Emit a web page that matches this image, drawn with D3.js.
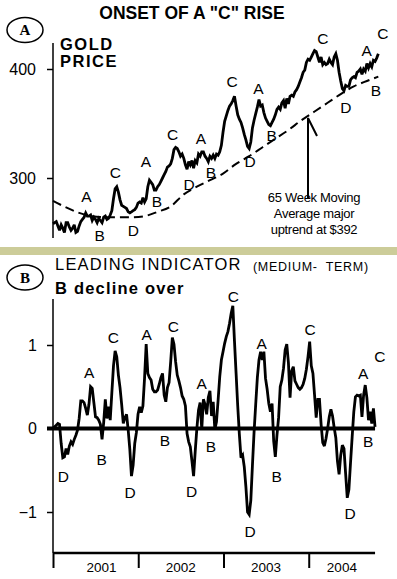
<!DOCTYPE html>
<html><head><meta charset="utf-8">
<script src="https://cdn.jsdelivr.net/npm/d3@7"></script>
<style>body{margin:0;background:#fff}svg{display:block}text{font-family:"Liberation Sans",Arial,sans-serif;fill:#000}</style>
</head><body>
<script>
// ---- data (weekly from 2001-01-01) ----
const startDate = "2001-01-01";
const goldPrice = [258,259,260,256,252,257,254,250,259,259,255,252,254,257,250,251,256,260,262,264,
268,265,265,266,261,264,262,259,263,261,259,264,265,262,263,266,270,281,290,292,
287,280,275,274,273,272,269,268,269,270,271,273,277,278,277,282,278,281,292,298,
296,294,289,289,292,294,297,300,303,306,310,311,313,318,326,328,327,324,320,322,
318,312,308,315,312,316,309,316,314,322,320,324,324,320,318,315,320,318,321,318,
322,321,324,330,342,352,357,362,366,368,371,375,366,358,354,351,346,340,335,329,
327,333,346,353,359,365,372,366,367,360,355,352,349,348,351,354,358,363,365,363,
369,371,364,373,368,375,376,375,379,381,384,388,392,397,399,406,409,408,411,414,
417,416,411,406,411,404,406,404,405,409,406,404,411,414,408,397,389,382,380,385,
384,384,390,392,393,392,397,398,400,395,400,398,405,401,405,402,408,407,410,414];
const maWeeks = [0,8,16,24,32,40,48,56,64,72,80,88,96,104,112,120,128,136,144,152,160,168,176,184,192,199];
const movingAvg = [279,273,268,265,264,264,264,265,269,274,285,292,298,304,313,320,328,336,344,353,361,369,377,384,389,393];
const indicator = [0.00,0.02,0.04,0.06,0.05,-0.18,-0.35,-0.34,-0.24,-0.31,-0.21,-0.16,-0.19,-0.13,-0.08,-0.02,0.12,0.33,0.33,0.31,
0.24,0.16,0.29,0.50,0.48,0.31,0.14,0.13,0.10,0.05,-0.13,0.07,0.35,0.12,0.26,0.10,0.43,0.75,0.93,0.86,
0.64,0.49,0.29,0.06,0.13,0.17,-0.02,-0.25,-0.57,-0.44,-0.18,-0.05,0.17,0.26,0.19,0.27,0.60,1.01,0.66,0.61,
0.58,0.47,0.44,0.44,0.46,0.53,0.61,0.66,0.40,0.32,0.49,0.55,0.80,1.09,1.01,0.80,0.64,0.57,0.49,0.39,
0.35,0.27,-0.06,-0.16,-0.22,-0.39,-0.57,-0.27,0.00,0.22,0.31,-0.01,0.35,0.29,0.17,0.37,0.45,0.15,0.32,-0.01,
0.08,0.34,0.62,0.82,0.92,1.02,1.10,1.16,1.26,1.38,1.47,1.05,0.66,0.27,-0.07,-0.35,-0.32,-0.46,-0.70,-1.00,
-1.03,-0.86,-0.44,-0.04,0.29,0.61,0.82,0.92,0.82,0.92,0.60,0.47,0.30,0.20,0.30,-0.15,-0.34,-0.08,0.13,0.50,
0.58,0.72,0.94,1.01,0.79,0.37,0.69,0.74,0.57,0.53,0.49,0.47,0.49,0.53,0.60,0.71,0.86,1.04,0.75,0.66,
0.40,0.13,0.35,0.35,0.05,-0.17,-0.21,-0.12,0.00,0.14,0.23,0.15,0.01,-0.11,-0.39,-0.55,-0.32,-0.20,-0.24,-0.54,
-0.83,-0.73,-0.41,-0.10,0.20,0.38,0.40,0.39,0.40,0.14,0.40,0.52,0.37,0.10,0.20,0.06,0.24,0.02];
const goldTicks = [300,400];
const indTicks = [-1,0,1];
const years = ["2001","2002","2003","2004"];
// wave labels: [letter, week, value]
const goldLabels = [["A",20.5,282.6],["B",28.6,246.8],["C",38.2,305.5],["D",49.1,251.8],["A",56.9,314.7],
["B",63.6,278],["C",73.2,339.9],["D",83.2,293.6],["A",90.5,335.8],["B",96.6,304.9],["C",109.5,388.3],
["D",120.5,315],["A",125.6,382.3],["B",133.8,339.4],["C",165.1,428.2],["D",179.2,364.9],["A",191.9,417.4],
["B",197.6,380.1],["C",201.7,432.8]];
const indLabels = [["D",6.3,-0.577],["A",22.2,0.665],["B",29.8,-0.377],["C",36.9,1.084],["D",47.1,-0.772],
["A",57.3,1.12],["B",68.5,-0.138],["C",73.6,1.219],["D",84.8,-0.757],["A",90.9,0.541],["B",96.6,-0.218],
["C",110.3,1.578],["D",120.5,-1.236],["A",127.6,1.02],["B",136.8,-0.569],["C",157.2,1.18],["D",181.7,-1.016],
["A",189.8,0.653],["B",192.8,-0.15],["C",200,0.868]];

// ---- setup ----
const W=397,H=579;
const svg=d3.select("body").append("svg").attr("width",W).attr("height",H);
const t0=d3.timeParse("%Y-%m-%d")(startDate);
const wk=i=>new Date(t0.getTime()+i*7*864e5);
const x=d3.scaleTime().domain([new Date(2001,0,1),new Date(2005,0,1)]).range([53,394.2]);
const gy=d3.scaleLinear().domain([300,400]).range([178,69]);
const iy=d3.scaleLinear().domain([-1,1]).range([512,345]);
const lastDate=wk(indicator.length-1);

// ---- title ----
svg.append("text").attr("x",192).attr("y",19).attr("text-anchor","middle")
  .style("font-weight","bold").style("font-size","17.5px").text('ONSET OF A "C" RISE');

function badge(cx,cy,letter){
  svg.append("ellipse").attr("cx",cx).attr("cy",cy).attr("rx",18).attr("ry",12.5)
    .attr("fill","none").attr("stroke","#000").attr("stroke-width",1.5);
  svg.append("text").attr("x",cx).attr("y",cy+5).attr("text-anchor","middle")
    .style("font-family","'Liberation Serif',serif").style("font-weight","bold").style("font-size","15px").text(letter);
}
badge(25,30,"A");
svg.append("text").attr("x",60).attr("y",49.5).style("font-weight","bold").style("font-size","16.5px").style("letter-spacing","1.5px").text("GOLD");
svg.append("text").attr("x",60).attr("y",66.5).style("font-weight","bold").style("font-size","16.5px").style("letter-spacing","1.5px").text("PRICE");

// gold axis
svg.append("line").attr("x1",53).attr("x2",53).attr("y1",43).attr("y2",238).attr("stroke","#000").attr("stroke-width",1.5);
const ga=svg.append("g").attr("transform","translate(53,0)")
  .call(d3.axisLeft(gy).tickValues(goldTicks).tickSize(6).tickPadding(11));
ga.select(".domain").remove();
ga.selectAll("line").attr("stroke-width",1.5);
ga.selectAll("text").style("font-size","16px").style("font-family","'Liberation Sans',Arial,sans-serif");

// moving average
svg.append("path").datum(maWeeks.map((w,i)=>[wk(w),movingAvg[i]]))
  .attr("d",d3.line().x(d=>x(d[0])).y(d=>gy(d[1])).curve(d3.curveMonotoneX))
  .attr("fill","none").attr("stroke","#000").attr("stroke-width",2).attr("stroke-dasharray","9,5");
// gold line
svg.append("path").datum(goldPrice.map((v,i)=>[wk(i),v]))
  .attr("d",d3.line().x(d=>x(d[0])).y(d=>gy(d[1])))
  .attr("fill","none").attr("stroke","#000").attr("stroke-width",2.8).attr("stroke-linejoin","miter").attr("stroke-miterlimit",3);

svg.append("g").selectAll("text").data(goldLabels).join("text")
  .attr("x",d=>x(wk(d[1]))).attr("y",d=>gy(d[2])+5.5).attr("text-anchor","middle")
  .style("font-size","15.5px").text(d=>d[0]);

// annotation
svg.append("path").attr("d","M308,198L308,118M308,118L317,136").attr("fill","none").attr("stroke","#000").attr("stroke-width",2);
["65 Week Moving","Average major","uptrend at $392"].forEach((t,i)=>{
  svg.append("text").attr("x",314).attr("y",202+i*16).attr("text-anchor","middle")
    .style("font-size","13px").style("letter-spacing","-0.3px").text(t);
});

// separator
svg.append("rect").attr("x",0).attr("y",247).attr("width",W).attr("height",8).attr("fill","#cccc99");

// ---- bottom panel ----
badge(25,277.5,"B");
svg.append("text").attr("x",55).attr("y",270).style("font-size","16.5px").style("letter-spacing","1.2px").text("LEADING INDICATOR");
svg.append("text").attr("x",253).attr("y",270.5).style("font-size","12.5px").style("letter-spacing","0.7px").style("white-space","pre").text("(MEDIUM-  TERM)");
svg.append("text").attr("x",55).attr("y",293.5).style("font-weight","bold").style("font-size","16.5px").style("letter-spacing","1.2px").text("B decline over");

svg.append("line").attr("x1",53).attr("x2",53).attr("y1",299).attr("y2",553).attr("stroke","#000").attr("stroke-width",1.5);
const ia=svg.append("g").attr("transform","translate(53,0)")
  .call(d3.axisLeft(iy).tickValues(indTicks).tickFormat(d3.format("d")).tickSize(6).tickPadding(10));
ia.select(".domain").remove();
ia.selectAll("line").attr("stroke-width",1.5);
ia.selectAll("text").style("font-size","16px").style("font-family","'Liberation Sans',Arial,sans-serif");

// zero line
svg.append("line").attr("x1",47).attr("x2",x(lastDate)).attr("y1",iy(0)).attr("y2",iy(0)).attr("stroke","#000").attr("stroke-width",4);

// indicator line
svg.append("path").datum(indicator.map((v,i)=>[wk(i),v]))
  .attr("d",d3.line().x(d=>x(d[0])).y(d=>iy(d[1])))
  .attr("fill","none").attr("stroke","#000").attr("stroke-width",2.8).attr("stroke-linejoin","miter").attr("stroke-miterlimit",3);

svg.append("g").selectAll("text").data(indLabels).join("text")
  .attr("x",d=>x(wk(d[1]))).attr("y",d=>iy(d[2])+5.5).attr("text-anchor","middle")
  .style("font-size","15.5px").text(d=>d[0]);

// time axis
const yearStarts=years.map(y=>new Date(+y,0,1));
svg.append("line").attr("x1",53).attr("x2",x(lastDate)).attr("y1",553).attr("y2",553).attr("stroke","#000").attr("stroke-width",2.5);
const xa=svg.append("g").attr("transform","translate(0,553)")
  .call(d3.axisBottom(x).tickValues(yearStarts).tickSize(15).tickFormat(""));
xa.select(".domain").remove();
xa.selectAll("line").attr("stroke-width",2);
svg.append("g").selectAll("text").data(years).join("text")
  .attr("x",(d,i)=>{const a=x(yearStarts[i]);const b=i<years.length-1?x(yearStarts[i+1]):x(lastDate);return (a+b)/2+(i===0?6:0);})
  .attr("y",571.5).attr("text-anchor","middle").style("font-size","13.5px").text(d=>d);
</script>
</body></html>
